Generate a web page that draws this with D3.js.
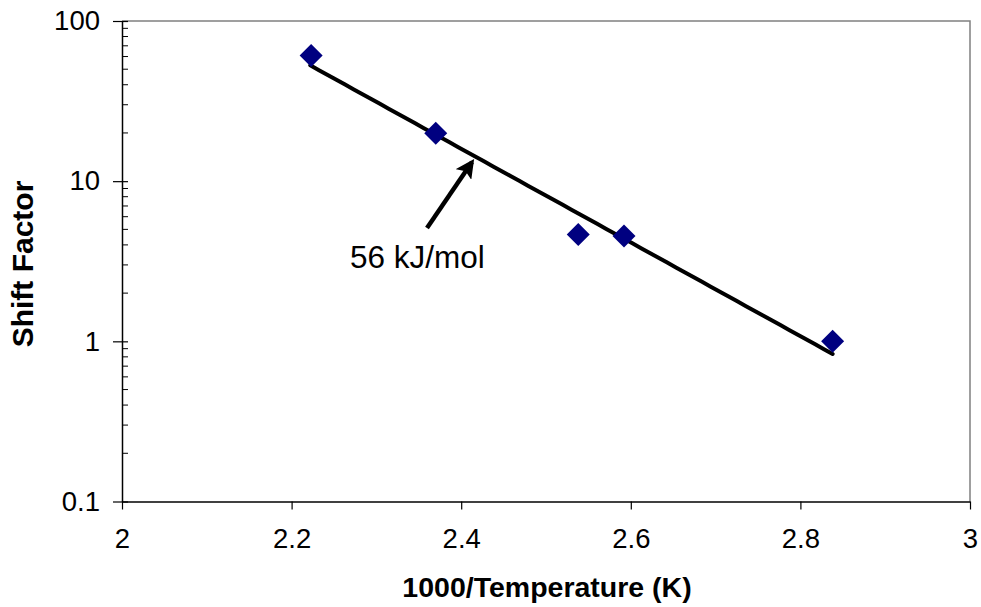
<!DOCTYPE html>
<html>
<head>
<meta charset="utf-8">
<script src="https://cdn.jsdelivr.net/npm/d3@7"></script>
<style>
  html, body { margin: 0; padding: 0; background: #fff; }
  svg { display: block; font-family: Arial, "Liberation Sans", sans-serif; }
</style>
</head>
<body>
<svg id="chart" width="981" height="607"></svg>
<script>
// Measured shift factors against reciprocal temperature
const invTemp = [2.223, 2.370, 2.538, 2.592, 2.838];
const shiftFactor = [61, 19.9, 4.65, 4.55, 1.0];

// Arrhenius fit: activation energy (kJ/mol) and the 1000/T where the factor equals 1
const activationEnergy = 56;
const gasConstant = 8.314;
const fitRefInvT = 2.811;
const fitRange = [2.222, 2.838];

const xTicks = [2, 2.2, 2.4, 2.6, 2.8, 3];
const yTicks = [0.1, 1, 10, 100];
const yTickLabels = ["0.1", "1", "10", "100"];

const annotation = "56 kJ/mol";
const xTitle = "1000/Temperature (K)";
const yTitle = "Shift Factor";

const svg = d3.select("#chart");
const plotL = 122, plotR = 970, plotT = 21, plotB = 501.5;

const x = d3.scaleLinear().domain([2, 3]).range([plotL, plotR]);
const y = d3.scaleLog().domain([0.1, 100]).range([plotB, plotT]);

// Top and right frame lines
svg.append("path")
  .attr("d", `M${plotL},${plotT}H${plotR}V${plotB}`)
  .attr("fill", "none").attr("stroke", "#808080").attr("stroke-width", 1.5);

// Minor y ticks (inside the plot)
const minor = [];
for (let e = -1; e < 2; e++) {
  for (let k = 2; k <= 9; k++) minor.push(k * Math.pow(10, e));
}
svg.append("g").selectAll("line").data(minor).join("line")
  .attr("x1", plotL).attr("x2", plotL + 6)
  .attr("y1", d => y(d)).attr("y2", d => y(d))
  .attr("stroke", "#000").attr("stroke-width", 1);

// Y axis
const yAxis = d3.axisLeft(y).tickValues(yTicks)
  .tickFormat((d, i) => yTickLabels[i]).tickSizeInner(9).tickSizeOuter(0).tickPadding(13);
const gy = svg.append("g").attr("transform", `translate(${plotL},0)`).call(yAxis);
gy.select(".domain").attr("stroke", "#000").attr("stroke-width", 1.5);
gy.selectAll(".tick line").attr("stroke", "#000").attr("stroke-width", 1.2)
  .attr("x1", 6).attr("x2", -9);
gy.selectAll(".tick text").attr("font-size", 27.5).attr("fill", "#000")
  .attr("font-family", "Arial, 'Liberation Sans', sans-serif");

// X axis
const xAxis = d3.axisBottom(x).tickValues(xTicks)
  .tickFormat(d3.format("")).tickSizeInner(8).tickSizeOuter(0).tickPadding(19);
const gx = svg.append("g").attr("transform", `translate(0,${plotB})`).call(xAxis);
gx.select(".domain").attr("stroke", "#000").attr("stroke-width", 1.5);
gx.selectAll(".tick line").attr("stroke", "#000").attr("stroke-width", 1.2);
gx.selectAll(".tick text").attr("font-size", 27.5).attr("fill", "#000")
  .attr("font-family", "Arial, 'Liberation Sans', sans-serif");

// Fit line from the Arrhenius relation
const slope = activationEnergy * 1000 / gasConstant / 1000; // per unit of 1000/T
const fitPts = d3.range(fitRange[0], fitRange[1] + 1e-9, (fitRange[1] - fitRange[0]) / 60)
  .map(t => [t, Math.exp(-slope * (t - fitRefInvT))]);
svg.append("path")
  .datum(fitPts)
  .attr("d", d3.line().x(d => x(d[0])).y(d => y(d[1])))
  .attr("fill", "none").attr("stroke", "#000").attr("stroke-width", 4)
  .attr("stroke-linecap", "round");

// Data markers
const pts = invTemp.map((t, i) => ({ t, s: shiftFactor[i] }));
svg.append("g").selectAll("path").data(pts).join("path")
  .attr("transform", d => `translate(${x(d.t)},${y(d.s)})`)
  .attr("d", "M0,-11.5L11.5,0L0,11.5L-11.5,0Z")
  .attr("fill", "#000080");

// Arrow pointing at the fit line
const defs = svg.append("defs");
defs.append("marker").attr("id", "head")
  .attr("viewBox", "0 0 10 10").attr("refX", 8).attr("refY", 5)
  .attr("markerWidth", 4.2).attr("markerHeight", 4.2).attr("orient", "auto")
  .append("path").attr("d", "M0,0L10,5L0,10L2,5Z").attr("fill", "#000");
svg.append("line")
  .attr("x1", 427).attr("y1", 228).attr("x2", 472).attr("y2", 162)
  .attr("stroke", "#000").attr("stroke-width", 4.5)
  .attr("marker-end", "url(#head)");

svg.append("text").attr("x", 350).attr("y", 268)
  .attr("font-size", 31.5).attr("fill", "#000").text(annotation);

// Axis titles
svg.append("text").attr("x", 547).attr("y", 597)
  .attr("text-anchor", "middle").attr("font-size", 28.5).attr("font-weight", "bold")
  .text(xTitle);
svg.append("text").attr("transform", "translate(33,264) rotate(-90)")
  .attr("text-anchor", "middle").attr("font-size", 30).attr("font-weight", "bold")
  .text(yTitle);
</script>
</body>
</html>
